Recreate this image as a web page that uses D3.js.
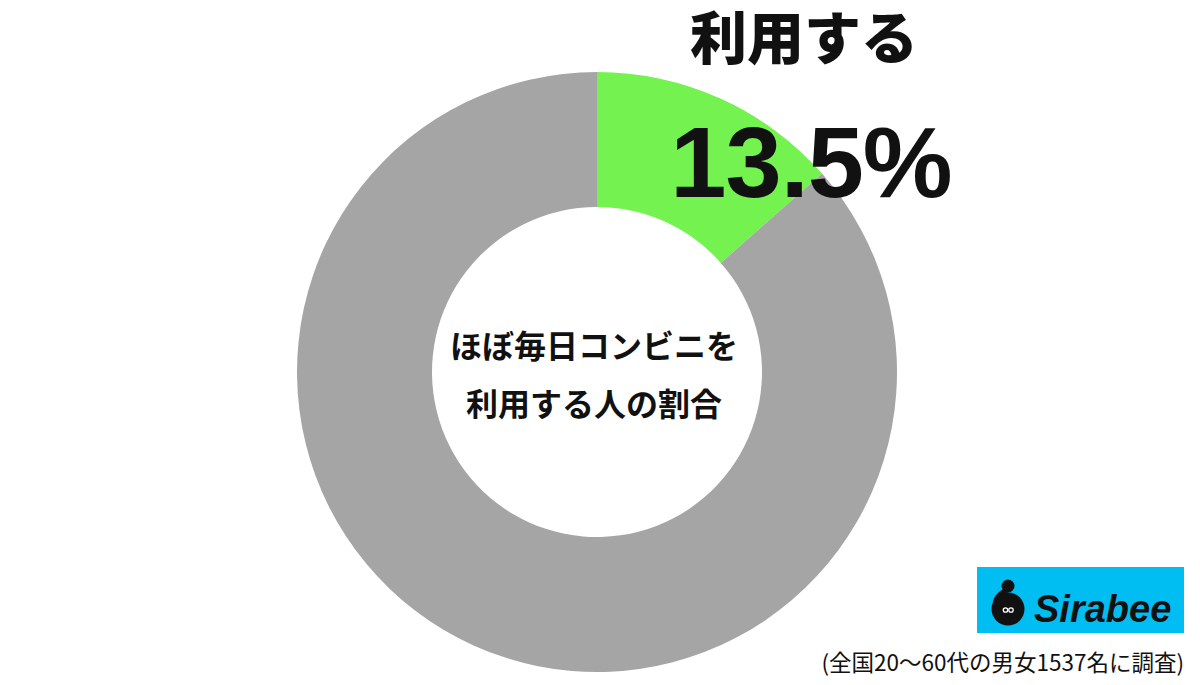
<!DOCTYPE html>
<html>
<head>
<meta charset="utf-8">
<script src="https://cdn.jsdelivr.net/npm/d3@7"></script>
<style>
  html, body { margin: 0; padding: 0; background: #ffffff; }
  svg { display: block; }
</style>
</head>
<body>
<svg id="chart" width="1200" height="685"></svg>
<script>
// ---- data ----
const categories = ["利用する", "利用しない"];
const values = [13.5, 86.5];
const colors = ["#74F24F", "#A5A5A5"];
const titleLabel = "利用する";
const valueLabel = "13.5%";
const centerLines = ["ほぼ毎日コンビニを", "利用する人の割合"];
const footnote = "(全国20〜60代の男女1537名に調査)";
const brand = "Sirabee";

// ---- drawing ----
const svg = d3.select("#chart");
const cx = 597, cy = 372, rOuter = 300, rInner = 165;

const pie = d3.pie().sort(null).value(d => d);
const arc = d3.arc().innerRadius(rInner).outerRadius(rOuter);
const color = d3.scaleOrdinal().domain(categories).range(colors);

const g = svg.append("g").attr("transform", `translate(${cx},${cy})`);
g.selectAll("path")
  .data(pie(values))
  .join("path")
  .attr("d", arc)
  .attr("fill", (d, i) => color(categories[i]));

const jp = "'Noto Sans CJK JP', 'Noto Sans', sans-serif";

// center label
svg.append("g").selectAll("text")
  .data(centerLines)
  .join("text")
  .attr("x", cx - 3)
  .attr("y", (d, i) => 358 + i * 58)
  .attr("text-anchor", "middle")
  .attr("font-family", jp)
  .attr("font-weight", 700)
  .attr("font-size", 32)
  .attr("fill", "#111")
  .text(d => d);

// title label
svg.append("text")
  .attr("x", 804)
  .attr("y", 59)
  .attr("text-anchor", "middle")
  .attr("font-family", jp)
  .attr("font-weight", 900)
  .attr("font-size", 57)
  .attr("fill", "#111")
  .text(titleLabel);

// value label
svg.append("text")
  .attr("x", 811)
  .attr("y", 197)
  .attr("text-anchor", "middle")
  .attr("font-family", "'Liberation Sans', Arial, sans-serif")
  .attr("font-weight", 700)
  .attr("font-size", 101)
  .attr("letter-spacing", -1)
  .attr("fill", "#111")
  .text(valueLabel);

// footnote
svg.append("text")
  .attr("x", 1184)
  .attr("y", 671)
  .attr("text-anchor", "end")
  .attr("font-family", jp)
  .attr("font-weight", 400)
  .attr("font-size", 22.5)
  .attr("fill", "#111")
  .text(footnote);

// logo
const logo = svg.append("g");
logo.append("rect")
  .attr("x", 977).attr("y", 567).attr("width", 207).attr("height", 66)
  .attr("fill", "#00BEF2");
// icon: body + neck + knob
logo.append("circle").attr("cx", 1008).attr("cy", 609).attr("r", 16.5).attr("fill", "#111");
logo.append("circle").attr("cx", 1008).attr("cy", 586).attr("r", 6.5).attr("fill", "#111");
logo.append("path")
  .attr("d", "M1003,589 C995,594 992,600 993,606 L1000,605 C1000,599 1004,594 1010,591 Z")
  .attr("fill", "#111");
logo.append("circle").attr("cx", 1005.5).attr("cy", 610).attr("r", 2.2).attr("fill", "none").attr("stroke", "#fff").attr("stroke-width", 1.3);
logo.append("circle").attr("cx", 1011).attr("cy", 610).attr("r", 2.2).attr("fill", "none").attr("stroke", "#fff").attr("stroke-width", 1.3);
logo.append("text")
  .attr("x", 1034)
  .attr("y", 622)
  .attr("font-family", "'Liberation Sans', Arial, sans-serif")
  .attr("font-weight", 700)
  .attr("font-style", "italic")
  .attr("font-size", 38)
  .attr("fill", "#111")
  .text(brand);
</script>
</body>
</html>
